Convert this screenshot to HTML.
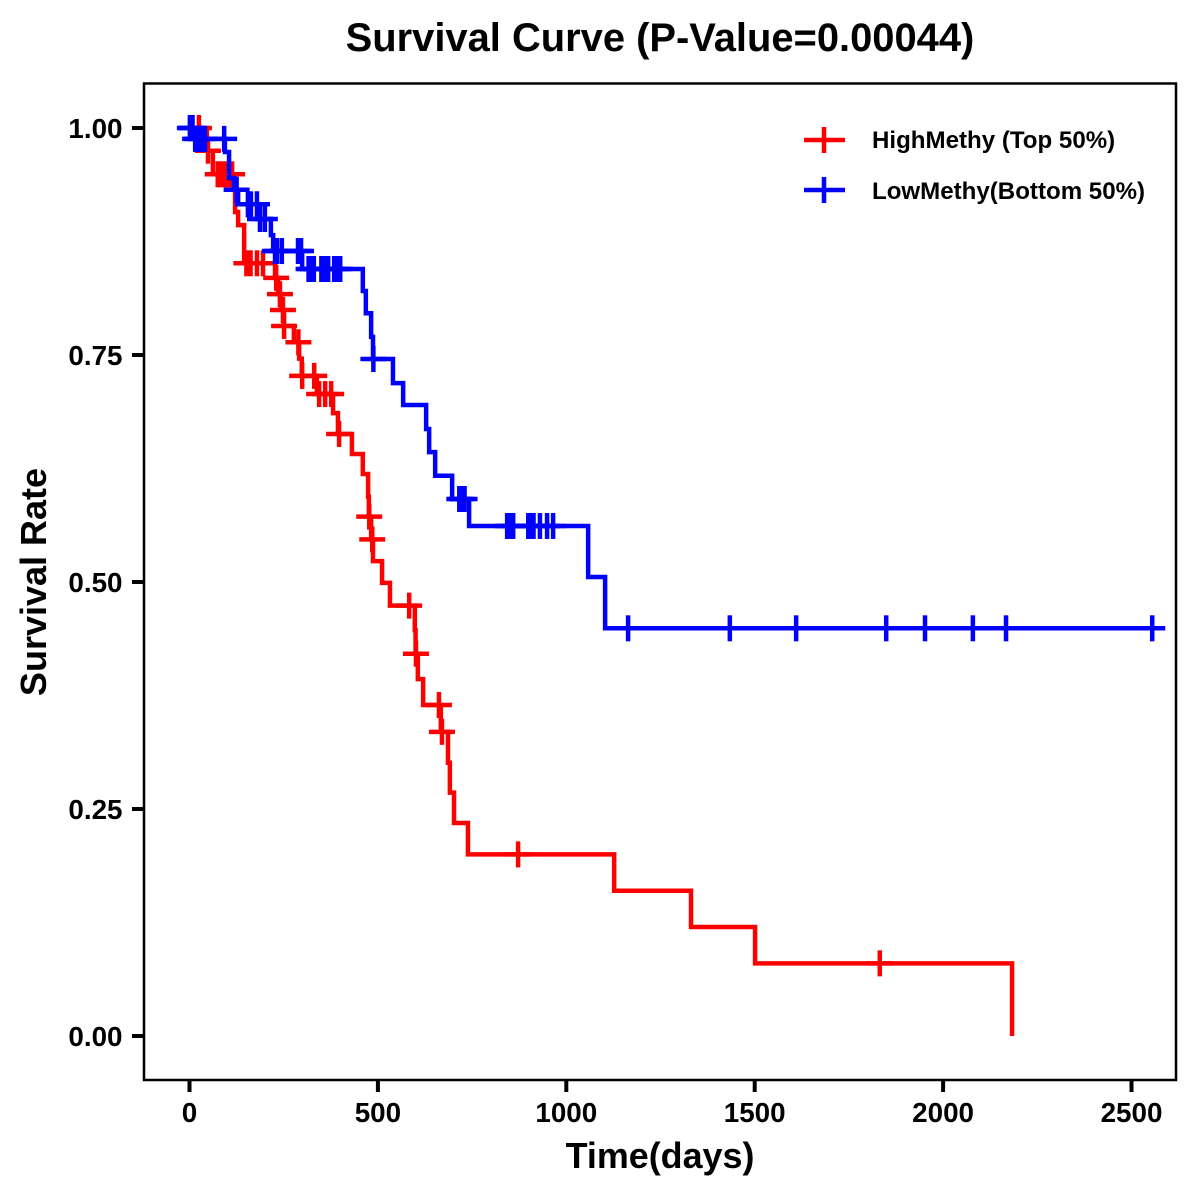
<!DOCTYPE html>
<html lang="en">
<head>
<meta charset="utf-8">
<title>Survival Curve</title>
<style>
html,body{margin:0;padding:0;background:#fff;}
svg{display:block;}
text{font-family:"Liberation Sans",Arial,sans-serif;font-weight:bold;fill:#000;}
</style>
</head>
<body>
<svg id="chart" width="1200" height="1200" viewBox="0 0 1200 1200" xmlns="http://www.w3.org/2000/svg">
  <rect x="0" y="0" width="1200" height="1200" fill="#fff"/>
  <text x="660" y="51" font-size="39.9" text-anchor="middle">Survival Curve (P-Value=0.00044)</text>
  <text x="660" y="1168" font-size="35.9" text-anchor="middle">Time(days)</text>
  <text transform="translate(46,582) rotate(-90)" font-size="36" text-anchor="middle">Survival Rate</text>
  <g id="ticks"></g>
  <g id="series"></g>
  <rect x="144" y="83.5" width="1032" height="996.5" fill="none" stroke="#000" stroke-width="2.5"/>
  <g>
    <g>
      <line x1="804" x2="845" y1="140" y2="140" stroke="#f00" stroke-width="4.5"/>
      <line x1="824" x2="824" y1="127" y2="153" stroke="#f00" stroke-width="4.5"/>
      <text x="872" y="148" font-size="24.1">HighMethy (Top 50%)</text>
    </g>
    <g>
      <line x1="804" x2="845" y1="190" y2="190" stroke="#00f" stroke-width="4.5"/>
      <line x1="824" x2="824" y1="177" y2="203" stroke="#00f" stroke-width="4.5"/>
      <text x="872" y="199" font-size="24.1">LowMethy(Bottom 50%)</text>
    </g>
  </g>
</svg>
<script>
var xTickValues = [0, 500, 1000, 1500, 2000, 2500];
var yTickValues = [0, 0.25, 0.5, 0.75, 1];
var yTickLabels = ["0.00", "0.25", "0.50", "0.75", "1.00"];

var highTimes = [46, 62, 121, 129, 145, 227, 235, 243, 250, 277, 291, 298, 338, 381, 394, 431, 460, 474, 476, 482, 487, 511, 532, 598, 600, 606, 620, 667, 686, 691, 702, 739, 1127, 1331, 1501, 2183];
var highSurvival = [0.975, 0.949, 0.9075, 0.893, 0.851, 0.835, 0.817, 0.7996, 0.782, 0.764, 0.746, 0.727, 0.707, 0.686, 0.663, 0.641, 0.619, 0.594, 0.572, 0.547, 0.523, 0.499, 0.474, 0.447, 0.421, 0.393, 0.3645, 0.335, 0.301, 0.268, 0.2346, 0.2, 0.16, 0.12, 0.08, 0];
var highCensored = [25, 49, 75, 82, 90, 97, 105, 113, 151, 162, 179, 195, 230, 240, 248, 251, 289, 299, 331, 344, 360, 376, 397, 477, 485, 583, 601, 662, 670, 872, 1832];

var lowTimes = [12, 94, 105, 118, 129, 183, 216, 222, 299, 460, 468, 482, 487, 540, 567, 628, 636, 652, 697, 742, 1058, 1103];
var lowSurvival = [0.988, 0.9736, 0.945, 0.932, 0.916, 0.8998, 0.882, 0.8645, 0.8447, 0.8205, 0.796, 0.77, 0.7456, 0.719, 0.695, 0.6685, 0.643, 0.617, 0.5914, 0.5617, 0.5055, 0.449];
var lowCensored = [1, 5, 8, 15, 20, 25, 30, 36, 41, 92, 125, 155, 163, 179, 187, 200, 227, 232, 245, 288, 296, 316, 322, 330, 350, 358, 368, 384, 392, 400, 488, 716, 723, 730, 843, 850, 859, 899, 906, 913, 930, 949, 965, 1164, 1434, 1610, 1849, 1952, 2079, 2167, 2555];
var lowEndTime = 2555;

var NS = "http://www.w3.org/2000/svg";
function xScale(t) { return 189.5 + t * 0.3768; }
function yScale(s) { return 1036 - s * 908; }

function levelAt(t, times, survival) {
  var s = 1;
  for (var i = 0; i < times.length; i++) {
    if (times[i] <= t) { s = survival[i]; }
  }
  return s;
}

function makeLine(x1, y1, x2, y2, color, width) {
  var l = document.createElementNS(NS, "line");
  l.setAttribute("x1", x1);
  l.setAttribute("y1", y1);
  l.setAttribute("x2", x2);
  l.setAttribute("y2", y2);
  l.setAttribute("stroke", color);
  l.setAttribute("stroke-width", width);
  return l;
}

function drawSeries(parent, times, survival, censored, endTime, color, key) {
  var d = "M" + xScale(0) + " " + yScale(1);
  for (var i = 0; i < times.length; i++) {
    d += " H" + xScale(times[i]).toFixed(2) + " V" + yScale(survival[i]).toFixed(2);
  }
  if (endTime !== null) {
    d += " H" + xScale(endTime).toFixed(2);
  }
  var path = document.createElementNS(NS, "path");
  path.setAttribute("d", d);
  path.setAttribute("fill", "none");
  path.setAttribute("stroke", color);
  path.setAttribute("stroke-width", "4.5");
  path.setAttribute("stroke-linejoin", "miter");
  
  
  parent.appendChild(path);
  for (var j = 0; j < censored.length; j++) {
    var cx = xScale(censored[j]);
    var cy = yScale(levelAt(censored[j], times, survival));
    var g = document.createElementNS(NS, "g");
    
    
    g.appendChild(makeLine(cx - 13, cy, cx + 13, cy, color, 4.5));
    g.appendChild(makeLine(cx, cy - 13, cx, cy + 13, color, 4.5));
    parent.appendChild(g);
  }
}

function drawAxes(parent) {
  xTickValues.forEach(function (v) {
    var px = xScale(v);
    var tick = makeLine(px, 1080, px, 1092, "#000", 4);
    
    
    parent.appendChild(tick);
    var label = document.createElementNS(NS, "text");
    label.setAttribute("x", px);
    label.setAttribute("y", 1122);
    label.setAttribute("font-size", "27.8");
    label.setAttribute("text-anchor", "middle");
    
    
    label.textContent = String(v);
    parent.appendChild(label);
  });
  yTickValues.forEach(function (v, i) {
    var py = yScale(v);
    var tick = makeLine(132, py, 144, py, "#000", 4);
    
    
    parent.appendChild(tick);
    var label = document.createElementNS(NS, "text");
    label.setAttribute("x", 122.5);
    label.setAttribute("y", py + 10);
    label.setAttribute("font-size", "27.8");
    label.setAttribute("text-anchor", "end");
    
    
    label.textContent = yTickLabels[i];
    parent.appendChild(label);
  });
}

drawAxes(document.getElementById("ticks"));
var seriesGroup = document.getElementById("series");
drawSeries(seriesGroup, highTimes, highSurvival, highCensored, null, "#ff0000", "high-methy");
drawSeries(seriesGroup, lowTimes, lowSurvival, lowCensored, lowEndTime, "#0000ff", "low-methy");
</script>
</body>
</html>
